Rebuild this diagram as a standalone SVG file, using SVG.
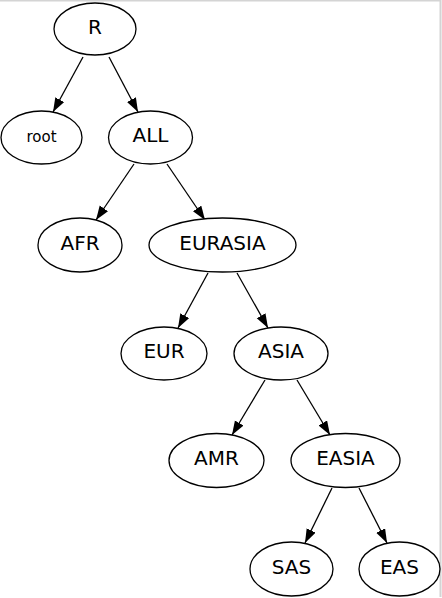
<svg xmlns="http://www.w3.org/2000/svg" width="442" height="598" viewBox="0 0 442 598">
<style>
.n ellipse{fill:#fff;stroke:#000;stroke-width:1.3}
.n text{font-family:"DejaVu Sans",Verdana,sans-serif;font-size:20px;text-anchor:middle;fill:#000}
#edges line{stroke:#000;stroke-width:1.3;marker-end:url(#ah)}
.frame{stroke:#d4d4d4;stroke-width:2;fill:none}
</style>
<defs>
<marker id="ah" markerUnits="userSpaceOnUse" markerWidth="15" markerHeight="11" refX="14" refY="5" orient="auto">
<path d="M0,0 L14,5 L0,10 Z" fill="#000"/>
</marker>
</defs>
<rect width="442" height="598" fill="#fff"/>
<polyline class="frame" points="0,0.5 440.5,0.5 440.5,597"/>
<g id="edges">
<line x1="83" y1="57" x2="53" y2="112"/>
<line x1="109" y1="57" x2="138" y2="112"/>
<line x1="134" y1="164" x2="96" y2="220"/>
<line x1="167" y1="164" x2="205" y2="220"/>
<line x1="208" y1="273" x2="178" y2="328"/>
<line x1="237" y1="273" x2="268" y2="328"/>
<line x1="265" y1="380" x2="232" y2="435"/>
<line x1="297" y1="380" x2="330" y2="435"/>
<line x1="332" y1="488" x2="305" y2="543"/>
<line x1="359" y1="488" x2="387" y2="543"/>
</g>
<g id="R" class="n"><ellipse cx="95" cy="29" rx="41" ry="26"/><text x="95" y="34">R</text></g>
<g id="root" class="n"><ellipse cx="41.5" cy="137.5" rx="40.5" ry="26.5"/><text x="41.5" y="142" style="font-size:15px">root</text></g>
<g id="ALL" class="n"><ellipse cx="150.5" cy="137.5" rx="42" ry="26.5"/><text x="150.5" y="142">ALL</text></g>
<g id="AFR" class="n"><ellipse cx="80" cy="245" rx="42" ry="27"/><text x="80" y="250">AFR</text></g>
<g id="EURASIA" class="n"><ellipse cx="222.5" cy="245" rx="73.5" ry="27"/><text x="222.5" y="250">EURASIA</text></g>
<g id="EUR" class="n"><ellipse cx="164" cy="353.5" rx="43" ry="26.5"/><text x="164" y="358">EUR</text></g>
<g id="ASIA" class="n"><ellipse cx="281" cy="353.5" rx="47" ry="26.5"/><text x="281" y="358">ASIA</text></g>
<g id="AMR" class="n"><ellipse cx="216.5" cy="460.5" rx="47.5" ry="27"/><text x="216.5" y="465">AMR</text></g>
<g id="EASIA" class="n"><ellipse cx="345.5" cy="460.5" rx="54.5" ry="27"/><text x="345.5" y="465">EASIA</text></g>
<g id="SAS" class="n"><ellipse cx="291.5" cy="569" rx="41.5" ry="27"/><text x="291.5" y="574">SAS</text></g>
<g id="EAS" class="n"><ellipse cx="399.5" cy="569" rx="40.5" ry="27"/><text x="399.5" y="574">EAS</text></g>
</svg>
